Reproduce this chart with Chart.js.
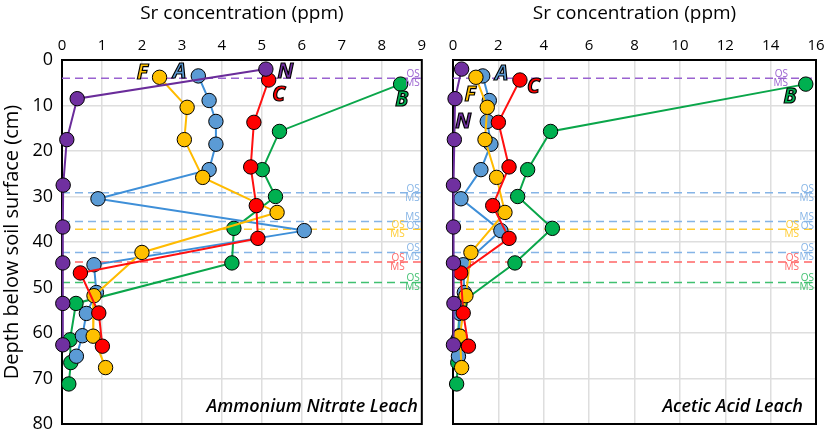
<!DOCTYPE html>
<html>
<head>
<meta charset="utf-8">
<script src="https://cdn.jsdelivr.net/npm/chart.js@4.4.0/dist/chart.umd.min.js"></script>
<style>
  html, body { margin: 0; padding: 0; background: #fff; }
  #wrap { position: relative; width: 829px; height: 435px; overflow: hidden; }
  canvas { position: absolute; top: 0; }
  #c1 { left: 0; }
  #c2 { left: 430px; }
</style>
</head>
<body>
<div id="wrap">
  <canvas id="c1" width="430" height="435"></canvas>
  <canvas id="c2" width="399" height="435"></canvas>
</div>
<script>
// ---- Sample depths (cm) per core ----
const depthN = [2.0, 8.5, 17.5, 27.5, 36.7, 44.6, 53.5, 62.6];
const depthA = [3.5, 8.9, 13.5, 18.5, 24.1, 30.5, 37.5, 45.0, 51.1, 55.7, 60.6, 65.1];
const depthF = [3.8, 10.4, 17.5, 25.8, 33.5, 42.3, 51.8, 60.7, 67.6];
const depthC = [4.4, 13.7, 23.5, 32.0, 39.2, 46.8, 55.6, 62.9];
const depthB = [5.3, 15.7, 24.1, 30.0, 37.0, 44.6, 53.5, 61.5, 66.5, 71.2];

// ---- Ammonium nitrate leach, Sr (ppm) ----
const anN = [5.10, 0.38, 0.12, 0.03, 0.02, 0.02, 0.02, 0.02];
const anA = [3.41, 3.68, 3.85, 3.85, 3.68, 0.90, 6.06, 0.80, 0.86, 0.61, 0.51, 0.36];
const anF = [2.44, 3.13, 3.06, 3.52, 5.38, 2.00, 0.80, 0.78, 1.09];
const anC = [5.17, 4.80, 4.72, 4.86, 4.90, 0.46, 0.92, 1.01];
const anB = [8.47, 5.44, 5.01, 5.34, 4.30, 4.25, 0.35, 0.20, 0.22, 0.17];

// ---- Acetic acid leach, Sr (ppm) ----
const aaN = [0.38, 0.09, 0.06, 0.02, 0.02, 0.02, 0.04, 0.02];
const aaA = [1.31, 1.60, 1.51, 1.67, 1.23, 0.35, 2.11, 0.45, 0.50, 0.30, 0.28, 0.24];
const aaF = [1.01, 1.51, 1.41, 1.92, 2.29, 0.79, 0.57, 0.30, 0.38];
const aaC = [2.95, 2.00, 2.47, 1.75, 2.47, 0.34, 0.45, 0.68];
const aaB = [15.55, 4.30, 3.29, 2.85, 4.38, 2.73, 0.31, 0.21, 0.21, 0.16];

// ---- OS / MS boundary depths (cm) ----
const boundaryDepth = [4.0, 29.2, 35.5, 37.2, 42.3, 44.4, 48.9];
const boundaryCore  = ['N', 'A', 'A', 'F', 'A', 'C', 'B'];
const boundaryUpper = ['OS', 'OS', 'MS', 'OS', 'OS', 'OS', 'OS'];
const boundaryLower = ['MS', 'MS', 'OS', 'MS', 'MS', 'MS', 'MS'];

// ---- Axis ticks ----
const depthTicks = [0, 10, 20, 30, 40, 50, 60, 70, 80];
const anTicks = [0, 1, 2, 3, 4, 5, 6, 7, 8, 9];
const aaTicks = [0, 2, 4, 6, 8, 10, 12, 14, 16];

const coreOrder = ['N', 'C', 'F', 'A', 'B'];
const coreFill = { N: '#7030a0', A: '#5b9bd5', F: '#ffc000', C: '#ff0000', B: '#00b050' };
const coreLine = { N: '#6a2c9a', A: '#3e8fd8', F: '#ffbb00', C: '#ff1010', B: '#0aa64a' };
const dashColor = { N: '#9a62d0', A: '#85b4e6', F: '#ffcc33', C: '#ff6666', B: '#40c070' };
const depths = { N: depthN, A: depthA, F: depthF, C: depthC, B: depthB };

const FONT = '"Open Sans", "Noto Sans", "DejaVu Sans", sans-serif';

function buildDatasets(values, xmax) {
  const ds = [];
  coreOrder.forEach((k, i) => {
    ds.push({
      label: k,
      data: values[k].map((v, j) => ({ x: v, y: depths[k][j] })),
      showLine: true,
      borderColor: coreLine[k],
      borderWidth: 2,
      backgroundColor: coreFill[k],
      pointBackgroundColor: coreFill[k],
      pointBorderColor: '#000',
      pointBorderWidth: 1,
      pointRadius: 7.2,
      order: i,
      clip: false
    });
  });
  boundaryDepth.forEach((d, i) => {
    ds.push({
      label: 'b' + i,
      data: [{ x: 0, y: d }, { x: xmax, y: d }],
      showLine: true,
      borderColor: dashColor[boundaryCore[i]],
      borderWidth: 1.5,
      borderDash: [8, 5],
      pointRadius: 0,
      order: 10 + i
    });
  });
  return ds;
}

function panelPlugin(cfg) {
  return {
    id: 'panel' + cfg.name,
    beforeDatasetsDraw(chart) {
      const { ctx, chartArea: a } = chart;
      ctx.save();
      ctx.strokeStyle = '#000';
      ctx.lineWidth = 2;
      ctx.strokeRect(a.left, a.top, a.right - a.left, a.bottom - a.top);
      ctx.restore();
    },
    afterDatasetsDraw(chart) {
      const { ctx, chartArea: a, scales } = chart;
      const xs = scales.x, ys = scales.y;
      ctx.save();
      // OS/MS labels
      ctx.font = '10px ' + FONT;
      ctx.textAlign = 'right';
      boundaryDepth.forEach((d, i) => {
        const y = ys.getPixelForValue(d);
        const x = a.right - 2 - cfg.labelShift[i];
        ctx.fillStyle = dashColor[boundaryCore[i]];
        ctx.textBaseline = 'bottom';
        ctx.fillText(boundaryUpper[i], x, y + 1);
        ctx.textBaseline = 'top';
        ctx.fillText(boundaryLower[i], x, y);
      });
      // core letters
      ctx.font = 'italic bold 21px ' + FONT;
      ctx.textAlign = 'center';
      ctx.textBaseline = 'middle';
      ctx.lineWidth = 1.2;
      ctx.strokeStyle = '#000';
      cfg.letters.forEach(L => {
        const px = xs.getPixelForValue(L.x), py = ys.getPixelForValue(L.y);
        ctx.fillStyle = coreFill[L.k];
        ctx.fillText(L.k, px, py);
        ctx.strokeText(L.k, px, py);
      });
      // leach name
      ctx.font = 'italic 600 18px ' + FONT;
      ctx.textAlign = 'right';
      ctx.textBaseline = 'alphabetic';
      ctx.fillStyle = '#000';
      ctx.fillText(cfg.leach, a.right - cfg.leachGap, a.bottom - 12);
      ctx.restore();
    }
  };
}

function makeChart(id, values, xmax, step, cfg) {
  return new Chart(document.getElementById(id), {
    type: 'scatter',
    data: { datasets: buildDatasets(values, xmax) },
    options: {
      responsive: false,
      animation: false,
      devicePixelRatio: 1,
      layout: { padding: { top: 0, right: cfg.padRight, bottom: 11, left: 0 } },
      plugins: { legend: { display: false }, tooltip: { enabled: false } },
      scales: {
        x: {
          type: 'linear', position: 'top', min: 0, max: xmax,
          ticks: { stepSize: step, color: '#000', font: { size: 15, family: FONT }, padding: 5 },
          grid: { color: '#dedede', lineWidth: 1.5, drawTicks: false },
          border: { display: false },
          title: { display: true, text: 'Sr concentration (ppm)', color: '#000',
                   font: { size: 19, family: FONT }, padding: { top: 2, bottom: 0 } },
          afterFit(s) { s.height = 60; s.paddingLeft = 0; s.paddingRight = 0; }
        },
        y: {
          type: 'linear', reverse: true, min: 0, max: 80,
          ticks: { stepSize: 10, display: cfg.showY, color: '#000', font: { size: 18, family: FONT }, padding: 9 },
          grid: { color: '#dedede', lineWidth: 1.5, drawTicks: false },
          border: { display: false },
          title: { display: cfg.showY, text: 'Depth below soil surface (cm)', color: '#000',
                   font: { size: 20, family: FONT }, padding: { top: 0, bottom: 0 } },
          afterFit(s) { s.width = cfg.yWidth; s.paddingTop = 0; s.paddingBottom = 0; }
        }
      }
    },
    plugins: [panelPlugin(cfg)]
  });
}

makeChart('c1', { N: anN, A: anA, F: anF, C: anC, B: anB }, 9, 1, {
  name: 'an', padRight: 6, yWidth: 62, showY: true,
  leach: 'Ammonium Nitrate Leach', leachGap: 4,
  labelShift: [0, 0, 0, 15, 0, 15, 0],
  letters: [
    { k: 'F', x: 2.01, y: 2.9 }, { k: 'A', x: 2.94, y: 2.6 }, { k: 'N', x: 5.59, y: 2.6 },
    { k: 'C', x: 5.42, y: 7.7 }, { k: 'B', x: 8.5, y: 8.8 }
  ]
});

makeChart('c2', { N: aaN, A: aaA, F: aaF, C: aaC, B: aaB }, 16, 2, {
  name: 'aa', padRight: 13, yWidth: 23, showY: false,
  leach: 'Acetic Acid Leach', leachGap: 13,
  labelShift: [26, 0, 0, 15, 0, 15, 0],
  letters: [
    { k: 'A', x: 2.14, y: 3.1 }, { k: 'C', x: 3.54, y: 6.0 }, { k: 'F', x: 0.75, y: 7.8 },
    { k: 'N', x: 0.45, y: 13.7 }, { k: 'B', x: 14.85, y: 8.2 }
  ]
});
</script>
</body>
</html>
